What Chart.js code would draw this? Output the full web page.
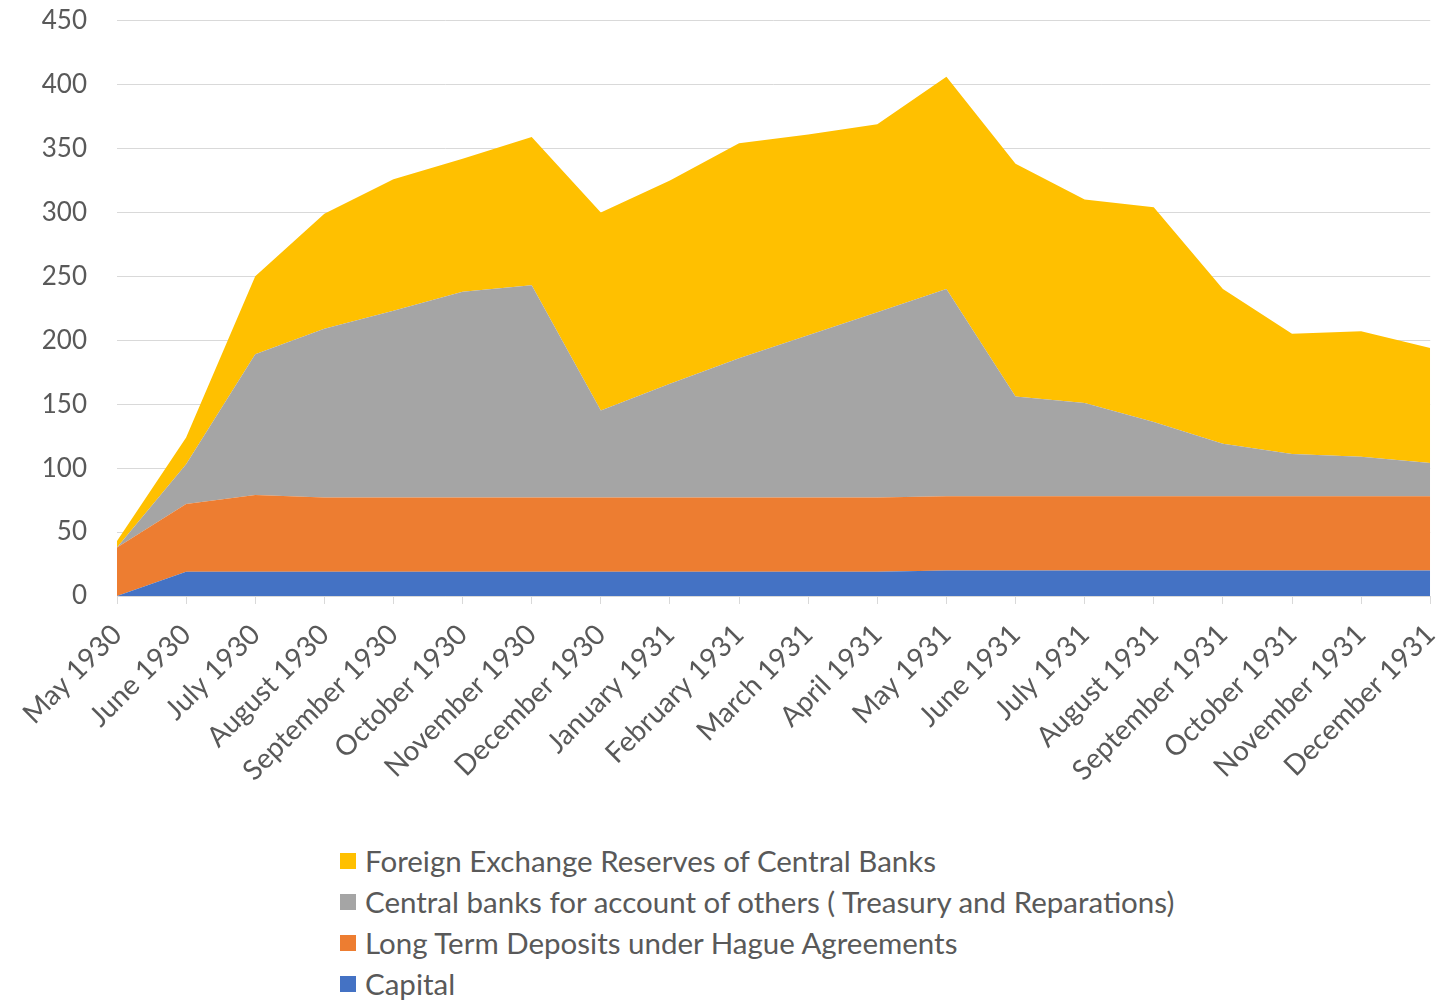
<!DOCTYPE html>
<html>
<head>
<meta charset="utf-8">
<title>BIS deposits 1930-1931</title>
<script src="https://cdn.jsdelivr.net/npm/chart.js@4"></script>
<style>
  html, body { margin: 0; background: #fff; overflow: hidden; font-family: Lato, "Open Sans", sans-serif; }
  #wrap { position: relative; width: 1445px; height: 1003px; overflow: hidden; }
  #chart-box { position: absolute; left: 0; top: -25px; width: 1468px; height: 825px; }
  #legend { position: absolute; left: 340px; top: 840px; margin: 0; padding: 0; list-style: none; }
  #legend li { display: flex; align-items: center; height: 41px; font-size: 29.5px; color: #595959; }
  #legend span.box { display: inline-block; width: 16px; height: 16px; margin-right: 9px; }
</style>
</head>
<body>
<div id="wrap">
  <div id="chart-box"><canvas id="chart"></canvas></div>
  <ul id="legend"></ul>
</div>
<script>
// ----------------------------Data----------------------------

const months = ['May 1930', 'June 1930', 'July 1930', 'August 1930', 'September 1930',
                'October 1930', 'November 1930', 'December 1930', 'January 1931',
                'February 1931', 'March 1931', 'April 1931', 'May 1931', 'June 1931',
                'July 1931', 'August 1931', 'September 1931', 'October 1931',
                'November 1931', 'December 1931'];

const capital = [0, 19, 19, 19, 19, 19, 19, 19, 19, 19, 19, 19, 20, 20, 20, 20, 20, 20, 20, 20];
const hagueDeposits = [38, 53, 60, 58, 58, 58, 58, 58, 58, 58, 58, 58, 58, 58, 58, 58, 58, 58, 58, 58];
const othersAccount = [0, 31, 110, 132, 146, 161, 166, 68, 89, 109, 127, 145, 162, 78, 73, 58, 41, 33, 31, 26];
const fxReserves = [5, 21, 61, 90, 103, 104, 116, 155, 159, 168, 157, 147, 166, 182, 159, 168, 121, 94, 98, 90];

const yTicks = [0, 50, 100, 150, 200, 250, 300, 350, 400, 450];

const seriesNames = ['Capital', 'Long Term Deposits under Hague Agreements',
                     'Central banks for account of others ( Treasury and Reparations)',
                     'Foreign Exchange Reserves of Central Banks'];
const seriesColors = ['#4472C4', '#ED7D31', '#A5A5A5', '#FFC000'];

// ----------------------------Chart----------------------------

const seriesValues = [capital, hagueDeposits, othersAccount, fxReserves];
const textColor = '#595959';
const gridColor = '#D9D9D9';

const chart = new Chart(document.getElementById('chart'), {
    type: 'line',
    data: {
        labels: months,
        datasets: seriesValues.map((vals, i) => ({
            label: seriesNames[i],
            data: vals,
            backgroundColor: seriesColors[i],
            borderColor: seriesColors[i],
            borderWidth: 0,
            pointRadius: 0,
            tension: 0,
            fill: i === 0 ? 'origin' : '-1'
        }))
    },
    options: {
        responsive: true,
        maintainAspectRatio: false,
        animation: false,
        layout: { padding: { top: 0, right: 5, bottom: 0, left: 0 } },
        plugins: {
            legend: { display: false },
            tooltip: { enabled: false }
        },
        scales: {
            x: {
                offset: false,
                grid: { drawOnChartArea: false, drawTicks: true, tickLength: 8, color: gridColor },
                border: { color: gridColor, width: 1 },
                ticks: {
                    autoSkip: false,
                    minRotation: 45,
                    maxRotation: 45,
                    padding: 14,
                    color: textColor,
                    font: { family: 'Lato', size: 28 }
                },
                afterFit: scale => { scale.height = 204; }
            },
            y: {
                stacked: true,
                min: 0,
                max: 450,
                afterBuildTicks: scale => { scale.ticks = yTicks.map(v => ({ value: v })); },
                grid: { color: gridColor, drawTicks: false },
                border: { display: false },
                ticks: {
                    padding: 30,
                    color: textColor,
                    font: { family: 'Lato', size: 26 }
                },
                afterFit: scale => { scale.width = 117; }
            }
        }
    }
});

// Vertical legend, top series first
const legend = document.getElementById('legend');
chart.data.datasets.slice().reverse().forEach(ds => {
    const li = document.createElement('li');
    const box = document.createElement('span');
    box.className = 'box';
    box.style.background = ds.backgroundColor;
    li.append(box, document.createTextNode(ds.label));
    legend.appendChild(li);
});
</script>
</body>
</html>
